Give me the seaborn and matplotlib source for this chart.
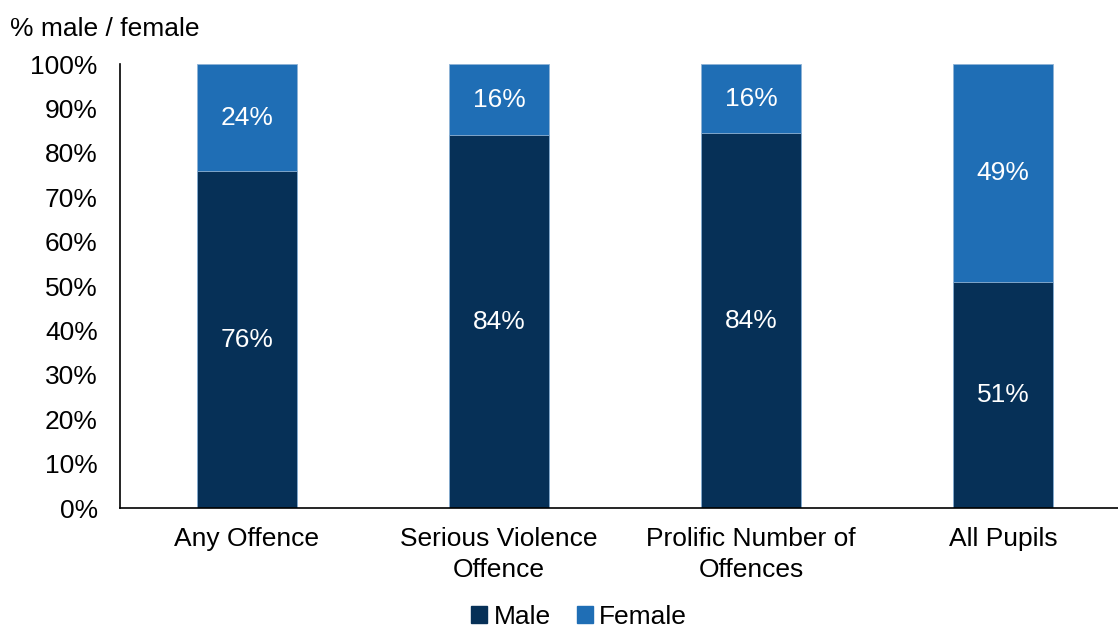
import matplotlib
matplotlib.use("Agg")
import matplotlib.pyplot as plt
import seaborn as sns
import pandas as pd
from matplotlib.patches import Patch

categories = ["Any Offence", "Serious Violence\nOffence", "Prolific Number of\nOffences", "All Pupils"]
male = [75.9, 84.0, 84.4, 50.9]
female = [24.1, 16.0, 15.6, 49.1]

male_col = "#063057"
female_col = "#1F6EB5"

sns.set_style("white")
plt.rcParams["font.family"] = ["Liberation Sans", "DejaVu Sans"]
plt.rcParams["text.color"] = "black"
plt.rcParams["xtick.color"] = "black"
plt.rcParams["ytick.color"] = "black"

df = pd.DataFrame({"cat": categories, "male": male, "female": female})
df["total"] = df["male"] + df["female"]

fs = 19
fig = plt.figure(figsize=(11.18, 6.35), dpi=100)
ax = fig.add_axes([0.1073, 0.2, 0.8927, 0.699])

# stacked: total in female colour, male drawn over it
sns.barplot(data=df, x="cat", y="total", color=female_col, width=0.397,
            saturation=1, edgecolor="#8fb3d6", linewidth=0.6, ax=ax)
sns.barplot(data=df, x="cat", y="male", color=male_col, width=0.397,
            saturation=1, edgecolor="#8fb3d6", linewidth=0.6, ax=ax)

for i, (m, f) in enumerate(zip(male, female)):
    ax.text(i, m / 2, f"{m:.0f}%", ha="center", va="center", color="white", fontsize=fs)
    ax.text(i, m + f / 2, f"{f:.0f}%", ha="center", va="center", color="white", fontsize=fs)

ax.set_ylim(0, 100)
ax.set_xlim(-0.504, 3.456)
ax.set_yticks(range(0, 101, 10))
ax.set_yticklabels([f"{v}%" for v in range(0, 101, 10)], fontsize=fs)
ax.tick_params(axis="x", labelsize=fs, length=0, pad=14)
ax.tick_params(axis="y", length=0, pad=16)
for lab in ax.get_xticklabels():
    lab.set_linespacing(1.35)
ax.set_xlabel("")
ax.set_ylabel("")
for s in ["top", "right"]:
    ax.spines[s].set_visible(False)
for s in ["left", "bottom"]:
    ax.spines[s].set_color("black")
    ax.spines[s].set_linewidth(1.2)

fig.text(0.009, 0.955, "% male / female", fontsize=fs, ha="left", va="center")

handles = [Patch(color=male_col, label="Male"), Patch(color=female_col, label="Female")]
fig.legend(handles=handles, loc="lower center", bbox_to_anchor=(0.518, -0.028), ncol=2,
           frameon=False, fontsize=fs, handlelength=0.6, handleheight=0.6,
           handletextpad=0.25, columnspacing=1.0)

fig.savefig("out.png", dpi=100)
